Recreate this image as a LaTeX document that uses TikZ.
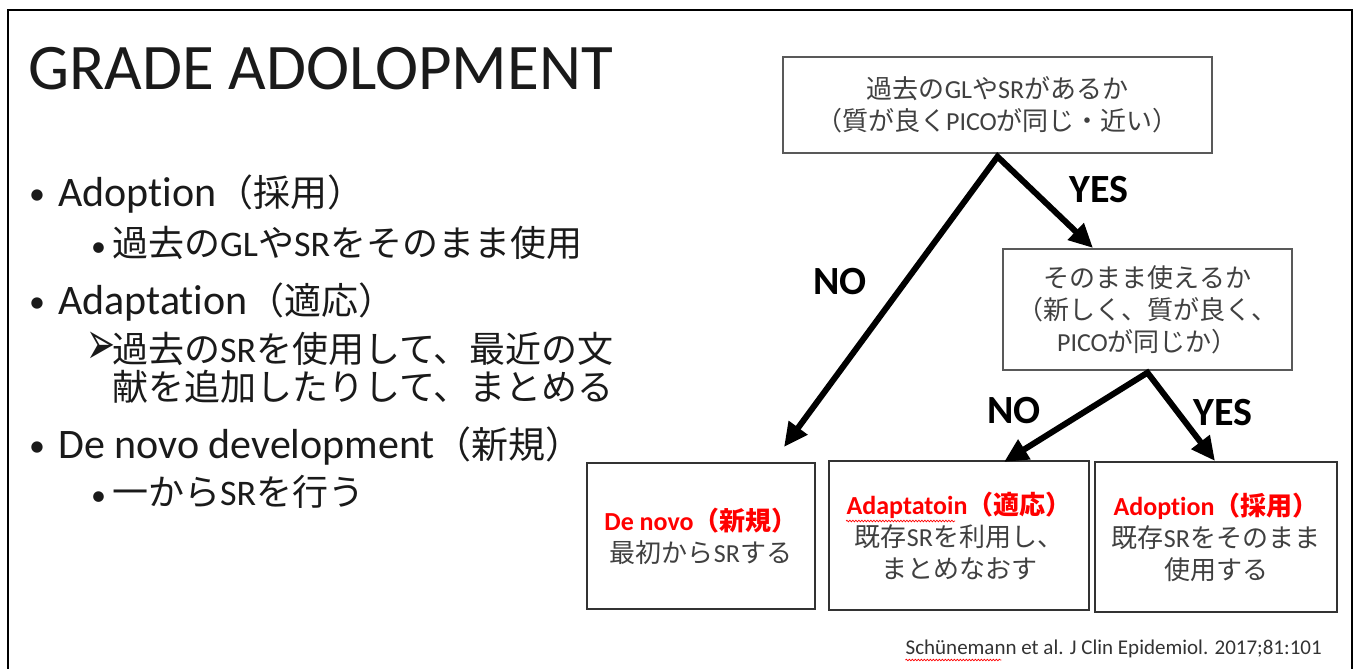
\documentclass[tikz,border=0pt]{standalone}
\usepackage{fontspec}
\usepackage{graphicx}
\setmainfont{Carlito}[Ligatures={NoCommon}]
\newfontfamily\jp{Noto Sans CJK JP}
\newfontfamily\dv{DejaVu Sans}
\usetikzlibrary{arrows.meta,decorations.pathmorphing,calc}
\definecolor{boxtxt}{HTML}{404040}
\definecolor{bodytxt}{HTML}{1A1A1A}
\definecolor{redtxt}{HTML}{FF0000}
\definecolor{citetxt}{HTML}{333333}
\begin{document}
\begin{tikzpicture}[x=1pt,y=-1pt,
  qbox/.style={draw=black!65, line width=1.3pt, align=center, inner sep=0pt, text=boxtxt, font=\fontsize{26}{32}\selectfont},
  rbox/.style={qbox, draw=black!80, line width=1.8pt},
  lbl/.style={font=\fontsize{40}{48}\selectfont\bfseries, text=black, inner sep=0pt},
  arr/.style={line width=6pt, {Triangle[length=24pt,width=22pt]}-{Triangle[length=24pt,width=22pt]}},
  txt/.style={anchor=base west, inner sep=0pt, text=bodytxt},
  mainfs/.style={font=\fontsize{42}{48}\selectfont},
  subfs/.style={font=\fontsize{36}{37}\selectfont},
  dotfs/.style={font=\fontsize{32}{36}\selectfont},
  frame/.style={line width=2.5pt, black},
  wavy/.style={draw=red, line width=0.7pt, decorate, decoration={snake, segment length=3pt, amplitude=0.8pt}}
]
\useasboundingbox (0,0) rectangle (1355,669);
\fill[white] (0,0) rectangle (1355,669);
\draw[frame] (8,669) -- (8,10) -- (1352,10) -- (1352,669);

% title
\node[txt, font=\fontsize{65}{78}\selectfont] (title) at (28,89) {GRADE ADOLOPMENT};

% left bullets
\node[txt, dotfs] (d1) at (29,204) {•};
\node[txt, mainfs] (b1) at (58,206) {Adoption{\jp\fontsize{37}{42}\selectfont （採用）}};
\node[txt, subfs] (e1) at (91,256) {\fontsize{30}{36}\selectfont •};
\node[txt, subfs] (s1) at (112,256) {{\jp 過去の}GL{\jp や}SR{\jp をそのまま使用}};
\node[txt, dotfs] (d2) at (29,312) {•};
\node[txt, mainfs] (b2) at (58,314) {Adaptation{\jp\fontsize{37}{42}\selectfont （適応）}};
\node[txt] (e2) at (86,364) {\raisebox{0pt}[28pt][0pt]{\scalebox{1.05}[1.85]{\dv\fontsize{33}{36}\selectfont ➢}}};
\node[txt, subfs] (s2a) at (112,362) {{\jp 過去の}SR{\jp を使用して、最近の文}};
\node[txt, subfs] (s2b) at (112,400) {{\jp 献を追加したりして、まとめる}};
\node[txt, dotfs] (d3) at (29,456) {•};
\node[txt, mainfs] (b3) at (58,458) {De novo development{\jp\fontsize{37}{42}\selectfont （新規）}};
\node[txt, subfs] (e3) at (91,505) {\fontsize{30}{36}\selectfont •};
\node[txt, subfs] (s3) at (112,505) {{\jp 一から}SR{\jp を行う}};

% flowchart boxes
\node[qbox, minimum width=429pt, minimum height=96pt] (q1) at (997.5,105)
  {{\jp 過去の}GL{\jp や}SR{\jp があるか}\\{\jp （質が良く}PICO{\jp が同じ・近い）}};
\node[qbox, minimum width=289pt, minimum height=121pt] (q2) at (1147.5,309.5)
  {{\jp そのまま使えるか}\\{\jp （新しく、質が良く、}\\PICO{\jp が同じか）}};
\node[rbox, minimum width=228pt, minimum height=146pt] (r1) at (701,536)
  {{\color{redtxt}\bfseries De novo{\jp （新規）}}\\{\jp 最初から}SR{\jp する}};
\node[rbox, minimum width=260pt, minimum height=149pt] (r2) at (959,535.5)
  {{\color{redtxt}\bfseries Adaptatoin{\jp （適応）}}\\{\jp 既存}SR{\jp を利用し、}\\{\jp まとめなおす}};
\node[rbox, minimum width=242pt, minimum height=150pt] (r3) at (1216,537)
  {{\color{redtxt}\bfseries Adoption{\jp （採用）}}\\{\jp 既存}SR{\jp をそのまま}\\{\jp 使用する}};

% arrow endpoints
\coordinate (a1) at ($(q1.south)+(0,3)$);
\coordinate (a2) at ($(q2.south)+(0,2)$);
\coordinate (t1) at (784,447);
\coordinate (t2) at (1093,248);
\coordinate (t3) at (1004,462);
\coordinate (t4) at (1215,461);

\draw[arr] (t1) -- (a1) -- (t2);
\draw[arr] (t3) -- (a2) -- (t4);

% labels
\node[lbl] (yes1) at (1099,190) {YES};
\node[lbl] (no1) at (840,282) {NO};
\node[lbl] (no2) at (1014,411) {NO};
\node[lbl] (yes2) at (1223,413) {YES};

% citation
\node[anchor=base east, inner sep=0pt, text=citetxt, font=\fontsize{21}{24}\selectfont] (cite) at (1322,654)
  {Schünemann et al. J Clin Epidemiol. 2017;81:101};

% spell-check underlines
\draw[wavy] ($(cite.base west)+(0,6)$) -- ($(cite.base west)+(96,6)$);
\draw[wavy] (846,521) -- (955,521);
\end{tikzpicture}
\end{document}
